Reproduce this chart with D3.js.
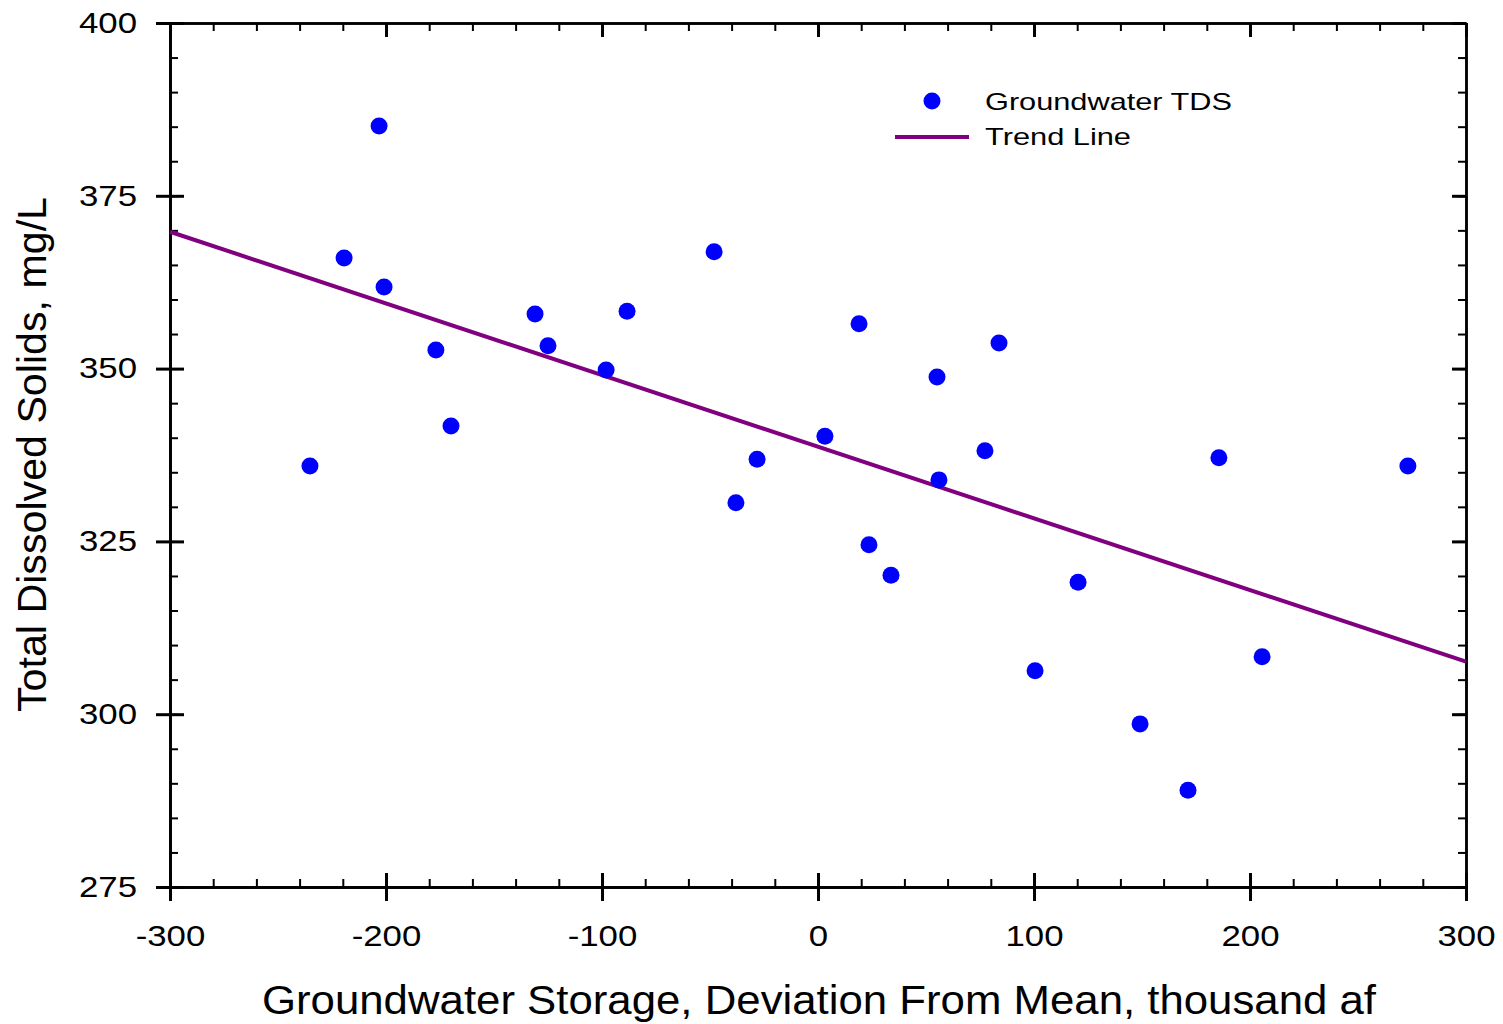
<!DOCTYPE html>
<html>
<head>
<meta charset="utf-8">
<script src="https://cdn.jsdelivr.net/npm/d3@7"></script>
<style>
body { margin: 0; background: #fff; }
text { font-family: "Liberation Sans", Arial, sans-serif; fill: #000; }
</style>
</head>
<body>
<div id="chart"></div>
<script>
const SVG_WIDTH = 1503;
const SVG_HEIGHT = 1024;
const MARGIN = { top: 23, right: 37, bottom: 137, left: 170 };
const TEXT_STRETCH = 1.2;

// groundwater storage deviation (thousand af) vs TDS (mg/L)
const storage = [-235.2, -219.4, -203.2, -200.9, -176.9, -169.9, -131, -125, -98.1, -88.4,
    -48.1, -38, -28.2, 3.2, 19, 23.6, 33.8, 55.1, 56, 77.3,
    83.8, 100.5, 120.4, 149.1, 171.3, 185.6, 205.6, 273.1];
const tds = [335.9, 366.0, 385.1, 361.8, 352.7, 341.7, 357.9, 353.3, 349.8, 358.3,
    366.9, 330.6, 336.9, 340.2, 356.5, 324.5, 320.1, 348.8, 333.9, 338.1,
    353.7, 306.3, 319.1, 298.6, 289.0, 337.1, 308.3, 335.9];

const trendX = [-300, 300];
const trendY = [369.8, 307.6];

const xTicks = [-300, -200, -100, 0, 100, 200, 300];
const xMinorTicks = d3.range(-300, 301, 20);
const yTicks = [275, 300, 325, 350, 375, 400];
const yMinorTicks = d3.range(275, 401, 5);

const X_TITLE = "Groundwater Storage, Deviation From Mean, thousand af";
const Y_TITLE = "Total Dissolved Solids, mg/L";
const LEGEND = ["Groundwater TDS", "Trend Line"];

const x = d3.scaleLinear().domain([-300, 300]).range([MARGIN.left, SVG_WIDTH - MARGIN.right]);
const y = d3.scaleLinear().domain([275, 400]).range([SVG_HEIGHT - MARGIN.bottom, MARGIN.top]);

const svg = d3.select("#chart").append("svg")
    .attr("width", SVG_WIDTH)
    .attr("height", SVG_HEIGHT);

const x0 = x.range()[0], x1 = x.range()[1];
const y0 = y.range()[0], y1 = y.range()[1];

const plainNumber = d => String(d);

const styleAxis = (g, width) => {
    g.select(".domain").attr("stroke", "#000").attr("stroke-width", 2.5);
    g.selectAll(".tick line").attr("stroke", "#000").attr("stroke-width", width);
};

// minor ticks (inside, all four sides)
svg.append("g").attr("transform", `translate(0,${y0})`)
    .call(d3.axisTop(x).tickValues(xMinorTicks).tickSize(8).tickSizeOuter(0).tickFormat(""))
    .call(g => styleAxis(g, 2));
svg.append("g").attr("transform", `translate(0,${y1})`)
    .call(d3.axisBottom(x).tickValues(xMinorTicks).tickSize(8).tickSizeOuter(0).tickFormat(""))
    .call(g => styleAxis(g, 2));
svg.append("g").attr("transform", `translate(${x0},0)`)
    .call(d3.axisRight(y).tickValues(yMinorTicks).tickSize(8).tickSizeOuter(0).tickFormat(""))
    .call(g => styleAxis(g, 2));
svg.append("g").attr("transform", `translate(${x1},0)`)
    .call(d3.axisLeft(y).tickValues(yMinorTicks).tickSize(8).tickSizeOuter(0).tickFormat(""))
    .call(g => styleAxis(g, 2));

// major ticks inside
svg.append("g").attr("transform", `translate(0,${y0})`)
    .call(d3.axisTop(x).tickValues(xTicks).tickSize(14).tickSizeOuter(0).tickFormat(""))
    .call(g => styleAxis(g, 3));
svg.append("g").attr("transform", `translate(0,${y1})`)
    .call(d3.axisBottom(x).tickValues(xTicks).tickSize(14).tickSizeOuter(0).tickFormat(""))
    .call(g => styleAxis(g, 3));
svg.append("g").attr("transform", `translate(${x0},0)`)
    .call(d3.axisRight(y).tickValues(yTicks).tickSize(14).tickSizeOuter(0).tickFormat(""))
    .call(g => styleAxis(g, 3));
svg.append("g").attr("transform", `translate(${x1},0)`)
    .call(d3.axisLeft(y).tickValues(yTicks).tickSize(14).tickSizeOuter(0).tickFormat(""))
    .call(g => styleAxis(g, 3));

// major ticks outside, with labels
svg.append("g").attr("transform", `translate(0,${y0})`)
    .call(d3.axisBottom(x).tickValues(xTicks).tickSize(14).tickSizeOuter(0).tickPadding(24).tickFormat(plainNumber))
    .call(g => styleAxis(g, 3))
    .call(g => g.selectAll("text")
        .attr("font-size", 29)
        .attr("transform", `scale(${TEXT_STRETCH},1)`)
        .attr("x", function () { return +d3.select(this).attr("x") / TEXT_STRETCH; }));
svg.append("g").attr("transform", `translate(${x0},0)`)
    .call(d3.axisLeft(y).tickValues(yTicks).tickSize(14).tickSizeOuter(0).tickPadding(19).tickFormat(plainNumber))
    .call(g => styleAxis(g, 3))
    .call(g => g.selectAll("text")
        .attr("font-size", 29)
        .attr("x", function () { return +d3.select(this).attr("x") / TEXT_STRETCH; })
        .attr("transform", `scale(${TEXT_STRETCH},1)`));

svg.selectAll(".tick text").attr("font-family", "Liberation Sans, Arial, sans-serif");

// trend line
const trendData = trendX.map((v, i) => ({ x: v, y: trendY[i] }));
svg.append("path")
    .datum(trendData)
    .attr("fill", "none")
    .attr("stroke", "#800080")
    .attr("stroke-width", 4)
    .attr("d", d3.line().x(d => x(d.x)).y(d => y(d.y)));

// points
svg.selectAll(".pt")
    .data(storage.map((v, i) => ({ x: v, y: tds[i] })))
    .enter()
    .append("circle")
    .attr("class", "pt")
    .attr("cx", d => x(d.x))
    .attr("cy", d => y(d.y))
    .attr("r", 8.5)
    .attr("fill", "#0000ff");

// legend
const legend = svg.append("g");
legend.append("circle").attr("cx", 932).attr("cy", 101).attr("r", 8.5).attr("fill", "#0000ff");
legend.append("line").attr("x1", 895).attr("x2", 969).attr("y1", 137).attr("y2", 137)
    .attr("stroke", "#800080").attr("stroke-width", 4);
legend.append("text").attr("x", 985).attr("y", 110).attr("font-size", 24)
    .attr("textLength", 247).attr("lengthAdjust", "spacingAndGlyphs").text(LEGEND[0]);
legend.append("text").attr("x", 985).attr("y", 145).attr("font-size", 24)
    .attr("textLength", 146).attr("lengthAdjust", "spacingAndGlyphs").text(LEGEND[1]);

// axis titles
svg.append("text")
    .attr("x", 262).attr("y", 1014)
    .attr("font-size", 41)
    .attr("textLength", 1114).attr("lengthAdjust", "spacingAndGlyphs")
    .text(X_TITLE);

svg.append("text")
    .attr("transform", "translate(46,712) rotate(-90)")
    .attr("font-size", 40)
    .attr("textLength", 515).attr("lengthAdjust", "spacingAndGlyphs")
    .text(Y_TITLE);
</script>
</body>
</html>
